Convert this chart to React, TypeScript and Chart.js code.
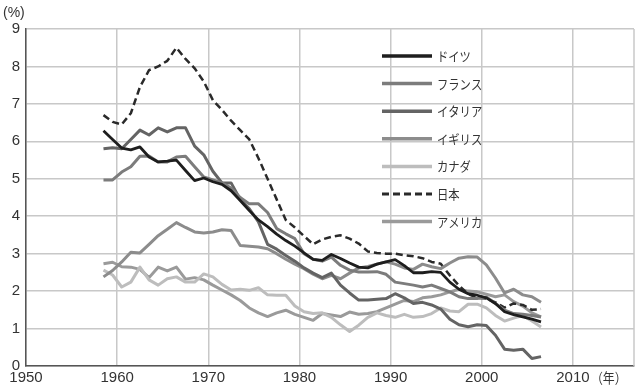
import React, { useEffect, useRef } from "react";
import { Chart, registerables } from "chart.js";

Chart.register(...registerables);

const years = [
  1958, 1959, 1960, 1961, 1962, 1963, 1964, 1965, 1966, 1967,
  1968, 1969, 1970, 1971, 1972, 1973, 1974, 1975, 1976, 1977,
  1978, 1979, 1980, 1981, 1982, 1983, 1984, 1985, 1986, 1987,
  1988, 1989, 1990, 1991, 1992, 1993, 1994, 1995, 1996, 1997,
  1998, 1999, 2000, 2001, 2002, 2003, 2004, 2005, 2006,
];

const germany = [
  6.28, 6.05, 5.82, 5.77, 5.85, 5.58, 5.45, 5.47, 5.5, 5.22,
  4.95, 5.02, 4.92, 4.85, 4.68, 4.42, 4.15, 3.9, 3.72, 3.52,
  3.35, 3.2, 3.02, 2.85, 2.82, 2.98, 2.87, 2.75, 2.64, 2.62,
  2.72, 2.78, 2.84, 2.68, 2.49, 2.49, 2.52, 2.5, 2.24, 2.05,
  1.93, 1.89, 1.82, 1.67, 1.45, 1.37, 1.31, 1.25, 1.18,
];

const france = [
  4.97, 4.97, 5.18, 5.32, 5.6, 5.61, 5.45, 5.45, 5.58, 5.6,
  5.32, 5.05, 4.97, 4.89, 4.75, 4.5, 4.33, 4.33, 4.1, 3.67,
  3.53, 3.4, 3.0, 2.85, 2.8, 2.91, 2.69, 2.56, 2.51, 2.51,
  2.52, 2.45, 2.24, 2.2, 2.16, 2.11, 2.16, 2.07, 1.98, 1.85,
  1.8, 1.8, 1.84, 1.67, 1.49, 1.4, 1.38, 1.35, 1.31,
];

const italy = [
  5.8, 5.83, 5.8, 6.05, 6.3, 6.17, 6.36, 6.25, 6.36, 6.36,
  5.87, 5.64, 5.2, 4.89, 4.89, 4.45, 4.2, 3.85, 3.25, 3.12,
  2.95, 2.8, 2.62, 2.48, 2.36, 2.48, 2.16, 1.95, 1.76, 1.76,
  1.78, 1.8, 1.93, 1.82, 1.67, 1.7, 1.63, 1.52, 1.25, 1.1,
  1.05, 1.1, 1.08, 0.82, 0.45, 0.42, 0.45, 0.2, 0.25,
];

const uk = [
  2.38, 2.55, 2.78, 3.04, 3.02, 3.25, 3.48, 3.65, 3.83, 3.7,
  3.58, 3.55, 3.58, 3.64, 3.62, 3.22, 3.2, 3.18, 3.13, 3.0,
  2.85, 2.72, 2.6, 2.45, 2.33, 2.42, 2.33, 2.48, 2.62, 2.66,
  2.72, 2.78, 2.72, 2.62, 2.58, 2.72, 2.65, 2.6, 2.75, 2.88,
  2.92, 2.91, 2.7, 2.35, 1.95, 2.05, 1.9, 1.85, 1.7,
];

const canada = [
  2.56, 2.43, 2.11, 2.24, 2.64, 2.3, 2.16, 2.33, 2.38, 2.24,
  2.24, 2.46, 2.38, 2.18, 2.03, 2.05, 2.02, 2.09, 1.9, 1.89,
  1.89, 1.6, 1.45, 1.4, 1.42, 1.3, 1.1, 0.92, 1.09, 1.3,
  1.42, 1.35, 1.3, 1.38, 1.3, 1.32, 1.4, 1.55, 1.47, 1.45,
  1.65, 1.65, 1.55, 1.35, 1.2, 1.28, 1.35, 1.2, 1.04,
];

const japan = [
  6.7, 6.52, 6.45, 6.75, 7.45, 7.9, 8.0, 8.15, 8.5, 8.2,
  7.95, 7.6, 7.1, 6.84, 6.55, 6.3, 6.05, 5.55, 5.0, 4.45,
  3.9, 3.7, 3.47, 3.25, 3.38, 3.45, 3.49, 3.4, 3.27, 3.06,
  3.02, 3.0, 3.0, 2.96, 2.93, 2.88, 2.78, 2.73, 2.42, 2.15,
  1.92, 1.82, 1.8, 1.7, 1.56, 1.67, 1.63, 1.5, 1.52,
];

const usa = [
  2.73, 2.77, 2.65, 2.64, 2.58, 2.36, 2.64, 2.54, 2.64, 2.32,
  2.36, 2.3, 2.16, 2.03, 1.9, 1.75, 1.55, 1.42, 1.32, 1.42,
  1.49, 1.38, 1.3, 1.22, 1.4, 1.36, 1.32, 1.44, 1.38, 1.4,
  1.45, 1.55, 1.65, 1.75, 1.72, 1.82, 1.85, 1.9, 1.98, 2.05,
  2.0, 1.98, 1.92, 1.85, 1.9, 1.72, 1.6, 1.42, 1.31,
];

const seriesLabels = ["ドイツ", "フランス", "イタリア", "イギリス", "カナダ", "日本", "アメリカ"];
const xTicks = [1950, 1960, 1970, 1980, 1990, 2000, 2010];
const yTicks = [0, 1, 2, 3, 4, 5, 6, 7, 8, 9];

const toPoints = (vals: number[]) => vals.map((v, i) => ({ x: years[i] + 0.5, y: v }));

const extrasPlugin = {
  id: "extras",
  afterDraw(chart: any) {
    const { ctx, chartArea } = chart;
    const xs = chart.scales.x;
    ctx.save();
    // right border
    ctx.strokeStyle = "#c8c8c8";
    ctx.lineWidth = 1.5;
    ctx.beginPath();
    ctx.moveTo(chartArea.right, chartArea.top);
    ctx.lineTo(chartArea.right, chartArea.bottom);
    ctx.stroke();

    // legend
    chart.data.datasets.forEach((ds: any, i: number) => {
      const y = chartArea.top + 27 + i * 27.6;
      const x0 = chartArea.left + 356;
      ctx.beginPath();
      ctx.setLineDash(ds.borderDash || []);
      ctx.lineWidth = ds.borderWidth + 0.5;
      ctx.strokeStyle = ds.borderColor;
      ctx.moveTo(x0, y);
      ctx.lineTo(x0 + 50, y);
      ctx.stroke();
      ctx.setLineDash([]);
      ctx.fillStyle = "#333";
      ctx.font = '13px "Noto Sans CJK JP"';
      ctx.textBaseline = "middle";
      ctx.textAlign = "left";
      ctx.save();
      ctx.translate(x0 + 55, y);
      ctx.scale(0.87, 1);
      ctx.fillText(ds.label, 0, 0);
      ctx.restore();
    });

    // unit labels
    ctx.fillStyle = "#333";
    ctx.textBaseline = "middle";
    ctx.font = '14px "Liberation Sans Narrow", "Liberation Sans"';
    ctx.fillText("(%)", 3, 13);
    ctx.save();
    ctx.translate(xs.getPixelForValue(2010) + 18, chartArea.bottom + 12);
    ctx.scale(0.85, 1);
    ctx.font = '14px "Noto Sans CJK JP"';
    ctx.fillText("（年）", 0, 0);
    ctx.restore();
    ctx.restore();
  },
};

export default function App() {
  const ref = useRef<HTMLCanvasElement>(null);
  useEffect(() => {
    document.body.style.margin = "0";
    const mk = (label: string, data: number[], color: string, width: number, dash?: number[]) => ({
      label,
      data: toPoints(data),
      borderColor: color,
      backgroundColor: color,
      borderWidth: width,
      borderDash: dash,
      pointRadius: 0,
      tension: 0,
      fill: false,
      borderJoinStyle: "round" as const,
    });
    const tickFont = { family: '"Liberation Sans Narrow", "Liberation Sans"', size: 15 };
    const chart = new Chart(ref.current!, {
      type: "line",
      data: {
        datasets: [
          mk(seriesLabels[0], germany, "#1e1e1e", 2.8),
          mk(seriesLabels[1], france, "#7c7c7c", 3),
          mk(seriesLabels[2], italy, "#646464", 3),
          mk(seriesLabels[3], uk, "#8c8c8c", 3),
          mk(seriesLabels[4], canada, "#bdbdbd", 3),
          mk(seriesLabels[5], japan, "#2a2a2a", 2.5, [7, 4]),
          mk(seriesLabels[6], usa, "#9a9a9a", 3),
        ],
      },
      options: {
        animation: false,
        responsive: false,
        layout: { padding: { top: 29, right: 6, left: 0, bottom: 0 } },
        plugins: { legend: { display: false }, tooltip: { enabled: false } },
        scales: {
          x: {
            type: "linear",
            min: 1950,
            max: 2016.7,
            afterBuildTicks: (s: any) => {
              s.ticks = xTicks.map((v) => ({ value: v }));
            },
            afterFit: (s: any) => {
              s.height = 26;
            },
            ticks: { font: tickFont, color: "#333", padding: 3, maxRotation: 0, callback: (v: any) => String(v) },
            grid: { color: "#c8c8c8", lineWidth: 1.5, drawTicks: false },
            border: { color: "#555", width: 1.5 },
          },
          y: {
            min: 0,
            max: 9,
            afterBuildTicks: (s: any) => {
              s.ticks = yTicks.map((v) => ({ value: v }));
            },
            afterFit: (s: any) => {
              s.width = 26;
            },
            ticks: { font: tickFont, color: "#333", padding: 6 },
            grid: { color: "#c8c8c8", lineWidth: 1.5, drawTicks: false },
            border: { color: "#555", width: 1.5 },
          },
        },
      },
      plugins: [extrasPlugin],
    });
    return () => chart.destroy();
  }, []);
  return (
    <div style={{ width: 640, height: 392 }}>
      <canvas ref={ref} width={640} height={392} />
    </div>
  );
}
